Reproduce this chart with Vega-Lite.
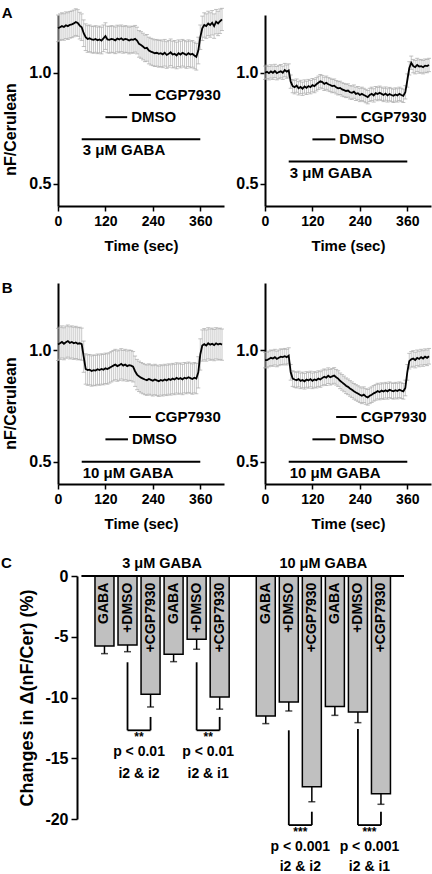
{
  "$schema": "https://vega.github.io/schema/vega-lite/v6.json",
  "background": "white",
  "padding": {"left": 0, "top": 6, "right": 0, "bottom": 0},
  "autosize": {"type": "pad"},
  "config": {
    "font": "Liberation Sans",
    "view": {"stroke": null},
    "axis": {"domainColor": "black", "domainWidth": 2, "tickColor": "black", "tickWidth": 1.5, "labelColor": "black", "titleColor": "black", "labelFont": "Liberation Sans", "titleFont": "Liberation Sans", "labelFontWeight": "bold", "titleFontWeight": "bold", "grid": false, "labelFlush": false, "labelOverlap": false},
    "title": {"font": "Liberation Sans", "fontWeight": "bold", "color": "black"},
    "text": {"font": "Liberation Sans", "fontWeight": "bold", "color": "black"}
  },
  "datasets": {
    "tr": [
      {"p":"A1","t":0,"v":1.2,"lo":1.14,"hi":1.26},{"p":"A1","t":5,"v":1.205,"lo":1.145,"hi":1.265},{"p":"A1","t":10,"v":1.21,"lo":1.15,"hi":1.27},{"p":"A1","t":15,"v":1.206,"lo":1.146,"hi":1.266},{"p":"A1","t":20,"v":1.214,"lo":1.154,"hi":1.274},{"p":"A1","t":25,"v":1.21,"lo":1.15,"hi":1.27},{"p":"A1","t":30,"v":1.216,"lo":1.156,"hi":1.276},{"p":"A1","t":35,"v":1.218,"lo":1.158,"hi":1.278},{"p":"A1","t":40,"v":1.222,"lo":1.162,"hi":1.282},{"p":"A1","t":45,"v":1.228,"lo":1.168,"hi":1.288},{"p":"A1","t":50,"v":1.224,"lo":1.164,"hi":1.284},{"p":"A1","t":55,"v":1.212,"lo":1.152,"hi":1.272},{"p":"A1","t":60,"v":1.205,"lo":1.145,"hi":1.265},{"p":"A1","t":65,"v":1.178,"lo":1.118,"hi":1.238},{"p":"A1","t":70,"v":1.16,"lo":1.1,"hi":1.22},{"p":"A1","t":75,"v":1.152,"lo":1.092,"hi":1.212},{"p":"A1","t":80,"v":1.155,"lo":1.095,"hi":1.215},{"p":"A1","t":85,"v":1.15,"lo":1.09,"hi":1.21},{"p":"A1","t":90,"v":1.148,"lo":1.088,"hi":1.208},{"p":"A1","t":95,"v":1.152,"lo":1.092,"hi":1.212},{"p":"A1","t":100,"v":1.146,"lo":1.086,"hi":1.206},{"p":"A1","t":105,"v":1.15,"lo":1.09,"hi":1.21},{"p":"A1","t":110,"v":1.145,"lo":1.085,"hi":1.205},{"p":"A1","t":115,"v":1.155,"lo":1.095,"hi":1.215},{"p":"A1","t":120,"v":1.165,"lo":1.105,"hi":1.225},{"p":"A1","t":125,"v":1.15,"lo":1.09,"hi":1.21},{"p":"A1","t":130,"v":1.148,"lo":1.088,"hi":1.208},{"p":"A1","t":135,"v":1.152,"lo":1.092,"hi":1.212},{"p":"A1","t":140,"v":1.15,"lo":1.09,"hi":1.21},{"p":"A1","t":145,"v":1.146,"lo":1.086,"hi":1.206},{"p":"A1","t":150,"v":1.154,"lo":1.094,"hi":1.214},{"p":"A1","t":155,"v":1.15,"lo":1.09,"hi":1.21},{"p":"A1","t":160,"v":1.155,"lo":1.095,"hi":1.215},{"p":"A1","t":165,"v":1.148,"lo":1.088,"hi":1.208},{"p":"A1","t":170,"v":1.152,"lo":1.092,"hi":1.212},{"p":"A1","t":175,"v":1.15,"lo":1.09,"hi":1.21},{"p":"A1","t":180,"v":1.145,"lo":1.085,"hi":1.205},{"p":"A1","t":185,"v":1.15,"lo":1.09,"hi":1.21},{"p":"A1","t":190,"v":1.148,"lo":1.088,"hi":1.208},{"p":"A1","t":195,"v":1.153,"lo":1.093,"hi":1.213},{"p":"A1","t":200,"v":1.145,"lo":1.085,"hi":1.205},{"p":"A1","t":205,"v":1.13,"lo":1.07,"hi":1.19},{"p":"A1","t":210,"v":1.125,"lo":1.065,"hi":1.185},{"p":"A1","t":215,"v":1.118,"lo":1.058,"hi":1.178},{"p":"A1","t":220,"v":1.11,"lo":1.05,"hi":1.17},{"p":"A1","t":225,"v":1.112,"lo":1.052,"hi":1.172},{"p":"A1","t":230,"v":1.1,"lo":1.04,"hi":1.16},{"p":"A1","t":235,"v":1.095,"lo":1.035,"hi":1.155},{"p":"A1","t":240,"v":1.092,"lo":1.032,"hi":1.152},{"p":"A1","t":245,"v":1.088,"lo":1.028,"hi":1.148},{"p":"A1","t":250,"v":1.09,"lo":1.03,"hi":1.15},{"p":"A1","t":255,"v":1.085,"lo":1.025,"hi":1.145},{"p":"A1","t":260,"v":1.088,"lo":1.028,"hi":1.148},{"p":"A1","t":265,"v":1.083,"lo":1.023,"hi":1.143},{"p":"A1","t":270,"v":1.09,"lo":1.03,"hi":1.15},{"p":"A1","t":275,"v":1.08,"lo":1.02,"hi":1.14},{"p":"A1","t":280,"v":1.085,"lo":1.025,"hi":1.145},{"p":"A1","t":285,"v":1.092,"lo":1.032,"hi":1.152},{"p":"A1","t":290,"v":1.082,"lo":1.022,"hi":1.142},{"p":"A1","t":295,"v":1.085,"lo":1.025,"hi":1.145},{"p":"A1","t":300,"v":1.078,"lo":1.018,"hi":1.138},{"p":"A1","t":305,"v":1.088,"lo":1.028,"hi":1.148},{"p":"A1","t":310,"v":1.082,"lo":1.022,"hi":1.142},{"p":"A1","t":315,"v":1.09,"lo":1.03,"hi":1.15},{"p":"A1","t":320,"v":1.085,"lo":1.025,"hi":1.145},{"p":"A1","t":325,"v":1.08,"lo":1.02,"hi":1.14},{"p":"A1","t":330,"v":1.088,"lo":1.028,"hi":1.148},{"p":"A1","t":335,"v":1.082,"lo":1.022,"hi":1.142},{"p":"A1","t":340,"v":1.085,"lo":1.025,"hi":1.145},{"p":"A1","t":345,"v":1.078,"lo":1.018,"hi":1.138},{"p":"A1","t":350,"v":1.072,"lo":1.012,"hi":1.132},{"p":"A1","t":355,"v":1.1,"lo":1.04,"hi":1.16},{"p":"A1","t":360,"v":1.16,"lo":1.105,"hi":1.215},{"p":"A1","t":365,"v":1.2,"lo":1.145,"hi":1.255},{"p":"A1","t":370,"v":1.215,"lo":1.16,"hi":1.27},{"p":"A1","t":375,"v":1.21,"lo":1.155,"hi":1.265},{"p":"A1","t":380,"v":1.222,"lo":1.167,"hi":1.277},{"p":"A1","t":385,"v":1.215,"lo":1.16,"hi":1.27},{"p":"A1","t":390,"v":1.225,"lo":1.17,"hi":1.28},{"p":"A1","t":395,"v":1.21,"lo":1.155,"hi":1.265},{"p":"A1","t":400,"v":1.23,"lo":1.175,"hi":1.285},{"p":"A1","t":405,"v":1.222,"lo":1.167,"hi":1.277},{"p":"A1","t":410,"v":1.232,"lo":1.177,"hi":1.287},{"p":"A1","t":415,"v":1.24,"lo":1.19,"hi":1.29},
      {"p":"A2","t":0,"v":1.0,"lo":0.97,"hi":1.03},{"p":"A2","t":5,"v":1.004,"lo":0.974,"hi":1.034},{"p":"A2","t":10,"v":0.998,"lo":0.968,"hi":1.028},{"p":"A2","t":15,"v":1.006,"lo":0.976,"hi":1.036},{"p":"A2","t":20,"v":1.0,"lo":0.97,"hi":1.03},{"p":"A2","t":25,"v":1.008,"lo":0.978,"hi":1.038},{"p":"A2","t":30,"v":0.998,"lo":0.968,"hi":1.028},{"p":"A2","t":35,"v":1.003,"lo":0.973,"hi":1.033},{"p":"A2","t":40,"v":1.007,"lo":0.977,"hi":1.037},{"p":"A2","t":45,"v":1.0,"lo":0.97,"hi":1.03},{"p":"A2","t":50,"v":1.012,"lo":0.982,"hi":1.042},{"p":"A2","t":55,"v":1.005,"lo":0.975,"hi":1.035},{"p":"A2","t":60,"v":1.01,"lo":0.98,"hi":1.04},{"p":"A2","t":65,"v":0.96,"lo":0.93,"hi":0.99},{"p":"A2","t":70,"v":0.94,"lo":0.91,"hi":0.97},{"p":"A2","t":75,"v":0.935,"lo":0.905,"hi":0.965},{"p":"A2","t":80,"v":0.942,"lo":0.912,"hi":0.972},{"p":"A2","t":85,"v":0.93,"lo":0.9,"hi":0.96},{"p":"A2","t":90,"v":0.936,"lo":0.906,"hi":0.966},{"p":"A2","t":95,"v":0.928,"lo":0.898,"hi":0.958},{"p":"A2","t":100,"v":0.938,"lo":0.908,"hi":0.968},{"p":"A2","t":105,"v":0.932,"lo":0.902,"hi":0.962},{"p":"A2","t":110,"v":0.94,"lo":0.91,"hi":0.97},{"p":"A2","t":115,"v":0.935,"lo":0.905,"hi":0.965},{"p":"A2","t":120,"v":0.944,"lo":0.914,"hi":0.974},{"p":"A2","t":125,"v":0.94,"lo":0.91,"hi":0.97},{"p":"A2","t":130,"v":0.948,"lo":0.918,"hi":0.978},{"p":"A2","t":135,"v":0.955,"lo":0.925,"hi":0.985},{"p":"A2","t":140,"v":0.962,"lo":0.932,"hi":0.992},{"p":"A2","t":145,"v":0.958,"lo":0.928,"hi":0.988},{"p":"A2","t":150,"v":0.95,"lo":0.92,"hi":0.98},{"p":"A2","t":155,"v":0.955,"lo":0.925,"hi":0.985},{"p":"A2","t":160,"v":0.948,"lo":0.918,"hi":0.978},{"p":"A2","t":165,"v":0.945,"lo":0.915,"hi":0.975},{"p":"A2","t":170,"v":0.94,"lo":0.91,"hi":0.97},{"p":"A2","t":175,"v":0.942,"lo":0.912,"hi":0.972},{"p":"A2","t":180,"v":0.935,"lo":0.905,"hi":0.965},{"p":"A2","t":185,"v":0.93,"lo":0.9,"hi":0.96},{"p":"A2","t":190,"v":0.932,"lo":0.902,"hi":0.962},{"p":"A2","t":195,"v":0.925,"lo":0.895,"hi":0.955},{"p":"A2","t":200,"v":0.922,"lo":0.892,"hi":0.952},{"p":"A2","t":205,"v":0.918,"lo":0.888,"hi":0.948},{"p":"A2","t":210,"v":0.92,"lo":0.89,"hi":0.95},{"p":"A2","t":215,"v":0.912,"lo":0.882,"hi":0.942},{"p":"A2","t":220,"v":0.91,"lo":0.88,"hi":0.94},{"p":"A2","t":225,"v":0.915,"lo":0.885,"hi":0.945},{"p":"A2","t":230,"v":0.905,"lo":0.875,"hi":0.935},{"p":"A2","t":235,"v":0.908,"lo":0.878,"hi":0.938},{"p":"A2","t":240,"v":0.9,"lo":0.87,"hi":0.93},{"p":"A2","t":245,"v":0.905,"lo":0.875,"hi":0.935},{"p":"A2","t":250,"v":0.9,"lo":0.87,"hi":0.93},{"p":"A2","t":255,"v":0.895,"lo":0.865,"hi":0.925},{"p":"A2","t":260,"v":0.89,"lo":0.86,"hi":0.92},{"p":"A2","t":265,"v":0.9,"lo":0.87,"hi":0.93},{"p":"A2","t":270,"v":0.905,"lo":0.875,"hi":0.935},{"p":"A2","t":275,"v":0.898,"lo":0.868,"hi":0.928},{"p":"A2","t":280,"v":0.908,"lo":0.878,"hi":0.938},{"p":"A2","t":285,"v":0.904,"lo":0.874,"hi":0.934},{"p":"A2","t":290,"v":0.91,"lo":0.88,"hi":0.94},{"p":"A2","t":295,"v":0.905,"lo":0.875,"hi":0.935},{"p":"A2","t":300,"v":0.9,"lo":0.87,"hi":0.93},{"p":"A2","t":305,"v":0.906,"lo":0.876,"hi":0.936},{"p":"A2","t":310,"v":0.898,"lo":0.868,"hi":0.928},{"p":"A2","t":315,"v":0.904,"lo":0.874,"hi":0.934},{"p":"A2","t":320,"v":0.9,"lo":0.87,"hi":0.93},{"p":"A2","t":325,"v":0.896,"lo":0.866,"hi":0.926},{"p":"A2","t":330,"v":0.902,"lo":0.872,"hi":0.932},{"p":"A2","t":335,"v":0.898,"lo":0.868,"hi":0.928},{"p":"A2","t":340,"v":0.905,"lo":0.875,"hi":0.935},{"p":"A2","t":345,"v":0.9,"lo":0.87,"hi":0.93},{"p":"A2","t":350,"v":0.896,"lo":0.866,"hi":0.926},{"p":"A2","t":355,"v":0.912,"lo":0.882,"hi":0.942},{"p":"A2","t":360,"v":0.965,"lo":0.935,"hi":0.995},{"p":"A2","t":365,"v":1.02,"lo":0.99,"hi":1.05},{"p":"A2","t":370,"v":1.045,"lo":1.015,"hi":1.075},{"p":"A2","t":375,"v":1.03,"lo":1.0,"hi":1.06},{"p":"A2","t":380,"v":1.025,"lo":0.995,"hi":1.055},{"p":"A2","t":385,"v":1.035,"lo":1.005,"hi":1.065},{"p":"A2","t":390,"v":1.028,"lo":0.998,"hi":1.058},{"p":"A2","t":395,"v":1.03,"lo":1.0,"hi":1.06},{"p":"A2","t":400,"v":1.025,"lo":0.995,"hi":1.055},{"p":"A2","t":405,"v":1.032,"lo":1.002,"hi":1.062},{"p":"A2","t":410,"v":1.03,"lo":1.0,"hi":1.06},{"p":"A2","t":415,"v":1.035,"lo":1.005,"hi":1.065},
      {"p":"B1","t":0,"v":1.025,"lo":0.953,"hi":1.097},{"p":"B1","t":5,"v":1.03,"lo":0.958,"hi":1.102},{"p":"B1","t":10,"v":1.036,"lo":0.964,"hi":1.108},{"p":"B1","t":15,"v":1.028,"lo":0.956,"hi":1.1},{"p":"B1","t":20,"v":1.035,"lo":0.963,"hi":1.107},{"p":"B1","t":25,"v":1.04,"lo":0.968,"hi":1.112},{"p":"B1","t":30,"v":1.032,"lo":0.96,"hi":1.104},{"p":"B1","t":35,"v":1.036,"lo":0.964,"hi":1.108},{"p":"B1","t":40,"v":1.03,"lo":0.958,"hi":1.102},{"p":"B1","t":45,"v":1.034,"lo":0.962,"hi":1.106},{"p":"B1","t":50,"v":1.028,"lo":0.956,"hi":1.1},{"p":"B1","t":55,"v":1.03,"lo":0.958,"hi":1.102},{"p":"B1","t":60,"v":1.026,"lo":0.954,"hi":1.098},{"p":"B1","t":65,"v":0.97,"lo":0.9,"hi":1.04},{"p":"B1","t":70,"v":0.915,"lo":0.847,"hi":0.983},{"p":"B1","t":75,"v":0.91,"lo":0.842,"hi":0.978},{"p":"B1","t":80,"v":0.912,"lo":0.844,"hi":0.98},{"p":"B1","t":85,"v":0.906,"lo":0.838,"hi":0.974},{"p":"B1","t":90,"v":0.91,"lo":0.842,"hi":0.978},{"p":"B1","t":95,"v":0.908,"lo":0.84,"hi":0.976},{"p":"B1","t":100,"v":0.914,"lo":0.846,"hi":0.982},{"p":"B1","t":105,"v":0.91,"lo":0.842,"hi":0.978},{"p":"B1","t":110,"v":0.915,"lo":0.847,"hi":0.983},{"p":"B1","t":115,"v":0.912,"lo":0.844,"hi":0.98},{"p":"B1","t":120,"v":0.918,"lo":0.85,"hi":0.986},{"p":"B1","t":125,"v":0.915,"lo":0.847,"hi":0.983},{"p":"B1","t":130,"v":0.92,"lo":0.852,"hi":0.988},{"p":"B1","t":135,"v":0.925,"lo":0.857,"hi":0.993},{"p":"B1","t":140,"v":0.93,"lo":0.862,"hi":0.998},{"p":"B1","t":145,"v":0.935,"lo":0.867,"hi":1.003},{"p":"B1","t":150,"v":0.928,"lo":0.86,"hi":0.996},{"p":"B1","t":155,"v":0.932,"lo":0.864,"hi":1.0},{"p":"B1","t":160,"v":0.938,"lo":0.87,"hi":1.006},{"p":"B1","t":165,"v":0.93,"lo":0.862,"hi":0.998},{"p":"B1","t":170,"v":0.935,"lo":0.867,"hi":1.003},{"p":"B1","t":175,"v":0.928,"lo":0.86,"hi":0.996},{"p":"B1","t":180,"v":0.932,"lo":0.864,"hi":1.0},{"p":"B1","t":185,"v":0.93,"lo":0.862,"hi":0.998},{"p":"B1","t":190,"v":0.925,"lo":0.857,"hi":0.993},{"p":"B1","t":195,"v":0.905,"lo":0.837,"hi":0.973},{"p":"B1","t":200,"v":0.89,"lo":0.822,"hi":0.958},{"p":"B1","t":205,"v":0.882,"lo":0.814,"hi":0.95},{"p":"B1","t":210,"v":0.876,"lo":0.808,"hi":0.944},{"p":"B1","t":215,"v":0.872,"lo":0.804,"hi":0.94},{"p":"B1","t":220,"v":0.868,"lo":0.8,"hi":0.936},{"p":"B1","t":225,"v":0.865,"lo":0.797,"hi":0.933},{"p":"B1","t":230,"v":0.87,"lo":0.802,"hi":0.938},{"p":"B1","t":235,"v":0.866,"lo":0.798,"hi":0.934},{"p":"B1","t":240,"v":0.862,"lo":0.794,"hi":0.93},{"p":"B1","t":245,"v":0.868,"lo":0.8,"hi":0.936},{"p":"B1","t":250,"v":0.864,"lo":0.796,"hi":0.932},{"p":"B1","t":255,"v":0.86,"lo":0.792,"hi":0.928},{"p":"B1","t":260,"v":0.866,"lo":0.798,"hi":0.934},{"p":"B1","t":265,"v":0.862,"lo":0.794,"hi":0.93},{"p":"B1","t":270,"v":0.868,"lo":0.8,"hi":0.936},{"p":"B1","t":275,"v":0.864,"lo":0.796,"hi":0.932},{"p":"B1","t":280,"v":0.87,"lo":0.802,"hi":0.938},{"p":"B1","t":285,"v":0.866,"lo":0.798,"hi":0.934},{"p":"B1","t":290,"v":0.872,"lo":0.804,"hi":0.94},{"p":"B1","t":295,"v":0.868,"lo":0.8,"hi":0.936},{"p":"B1","t":300,"v":0.875,"lo":0.807,"hi":0.943},{"p":"B1","t":305,"v":0.87,"lo":0.802,"hi":0.938},{"p":"B1","t":310,"v":0.874,"lo":0.806,"hi":0.942},{"p":"B1","t":315,"v":0.868,"lo":0.8,"hi":0.936},{"p":"B1","t":320,"v":0.876,"lo":0.808,"hi":0.944},{"p":"B1","t":325,"v":0.872,"lo":0.804,"hi":0.94},{"p":"B1","t":330,"v":0.878,"lo":0.81,"hi":0.946},{"p":"B1","t":335,"v":0.874,"lo":0.806,"hi":0.942},{"p":"B1","t":340,"v":0.87,"lo":0.802,"hi":0.938},{"p":"B1","t":345,"v":0.876,"lo":0.808,"hi":0.944},{"p":"B1","t":350,"v":0.872,"lo":0.804,"hi":0.94},{"p":"B1","t":355,"v":0.9,"lo":0.83,"hi":0.97},{"p":"B1","t":360,"v":0.98,"lo":0.91,"hi":1.05},{"p":"B1","t":365,"v":1.02,"lo":0.95,"hi":1.09},{"p":"B1","t":370,"v":1.026,"lo":0.956,"hi":1.096},{"p":"B1","t":375,"v":1.02,"lo":0.95,"hi":1.09},{"p":"B1","t":380,"v":1.03,"lo":0.96,"hi":1.1},{"p":"B1","t":385,"v":1.024,"lo":0.954,"hi":1.094},{"p":"B1","t":390,"v":1.028,"lo":0.958,"hi":1.098},{"p":"B1","t":395,"v":1.022,"lo":0.952,"hi":1.092},{"p":"B1","t":400,"v":1.03,"lo":0.96,"hi":1.1},{"p":"B1","t":405,"v":1.025,"lo":0.955,"hi":1.095},{"p":"B1","t":410,"v":1.028,"lo":0.958,"hi":1.098},{"p":"B1","t":415,"v":1.024,"lo":0.954,"hi":1.094},
      {"p":"B2","t":0,"v":0.955,"lo":0.92,"hi":0.99},{"p":"B2","t":5,"v":0.955,"lo":0.92,"hi":0.99},{"p":"B2","t":10,"v":0.96,"lo":0.925,"hi":0.995},{"p":"B2","t":15,"v":0.965,"lo":0.93,"hi":1.0},{"p":"B2","t":20,"v":0.962,"lo":0.927,"hi":0.997},{"p":"B2","t":25,"v":0.968,"lo":0.933,"hi":1.003},{"p":"B2","t":30,"v":0.96,"lo":0.925,"hi":0.995},{"p":"B2","t":35,"v":0.965,"lo":0.93,"hi":1.0},{"p":"B2","t":40,"v":0.97,"lo":0.935,"hi":1.005},{"p":"B2","t":45,"v":0.968,"lo":0.933,"hi":1.003},{"p":"B2","t":50,"v":0.972,"lo":0.937,"hi":1.007},{"p":"B2","t":55,"v":0.968,"lo":0.933,"hi":1.003},{"p":"B2","t":60,"v":0.975,"lo":0.94,"hi":1.01},{"p":"B2","t":65,"v":0.9,"lo":0.865,"hi":0.935},{"p":"B2","t":70,"v":0.872,"lo":0.837,"hi":0.907},{"p":"B2","t":75,"v":0.868,"lo":0.833,"hi":0.903},{"p":"B2","t":80,"v":0.865,"lo":0.83,"hi":0.9},{"p":"B2","t":85,"v":0.87,"lo":0.835,"hi":0.905},{"p":"B2","t":90,"v":0.862,"lo":0.827,"hi":0.897},{"p":"B2","t":95,"v":0.866,"lo":0.831,"hi":0.901},{"p":"B2","t":100,"v":0.86,"lo":0.825,"hi":0.895},{"p":"B2","t":105,"v":0.868,"lo":0.833,"hi":0.903},{"p":"B2","t":110,"v":0.864,"lo":0.829,"hi":0.899},{"p":"B2","t":115,"v":0.87,"lo":0.835,"hi":0.905},{"p":"B2","t":120,"v":0.862,"lo":0.827,"hi":0.897},{"p":"B2","t":125,"v":0.868,"lo":0.833,"hi":0.903},{"p":"B2","t":130,"v":0.865,"lo":0.83,"hi":0.9},{"p":"B2","t":135,"v":0.872,"lo":0.837,"hi":0.907},{"p":"B2","t":140,"v":0.868,"lo":0.833,"hi":0.903},{"p":"B2","t":145,"v":0.875,"lo":0.84,"hi":0.91},{"p":"B2","t":150,"v":0.88,"lo":0.845,"hi":0.915},{"p":"B2","t":155,"v":0.876,"lo":0.841,"hi":0.911},{"p":"B2","t":160,"v":0.885,"lo":0.85,"hi":0.92},{"p":"B2","t":165,"v":0.878,"lo":0.843,"hi":0.913},{"p":"B2","t":170,"v":0.882,"lo":0.847,"hi":0.917},{"p":"B2","t":175,"v":0.886,"lo":0.851,"hi":0.921},{"p":"B2","t":180,"v":0.878,"lo":0.843,"hi":0.913},{"p":"B2","t":185,"v":0.872,"lo":0.837,"hi":0.907},{"p":"B2","t":190,"v":0.862,"lo":0.827,"hi":0.897},{"p":"B2","t":195,"v":0.855,"lo":0.82,"hi":0.89},{"p":"B2","t":200,"v":0.848,"lo":0.813,"hi":0.883},{"p":"B2","t":205,"v":0.84,"lo":0.805,"hi":0.875},{"p":"B2","t":210,"v":0.835,"lo":0.8,"hi":0.87},{"p":"B2","t":215,"v":0.828,"lo":0.793,"hi":0.863},{"p":"B2","t":220,"v":0.822,"lo":0.787,"hi":0.857},{"p":"B2","t":225,"v":0.815,"lo":0.78,"hi":0.85},{"p":"B2","t":230,"v":0.81,"lo":0.775,"hi":0.845},{"p":"B2","t":235,"v":0.805,"lo":0.77,"hi":0.84},{"p":"B2","t":240,"v":0.8,"lo":0.765,"hi":0.835},{"p":"B2","t":245,"v":0.795,"lo":0.76,"hi":0.83},{"p":"B2","t":250,"v":0.8,"lo":0.765,"hi":0.835},{"p":"B2","t":255,"v":0.792,"lo":0.757,"hi":0.827},{"p":"B2","t":260,"v":0.788,"lo":0.753,"hi":0.823},{"p":"B2","t":265,"v":0.795,"lo":0.76,"hi":0.83},{"p":"B2","t":270,"v":0.8,"lo":0.765,"hi":0.835},{"p":"B2","t":275,"v":0.806,"lo":0.771,"hi":0.841},{"p":"B2","t":280,"v":0.81,"lo":0.775,"hi":0.845},{"p":"B2","t":285,"v":0.816,"lo":0.781,"hi":0.851},{"p":"B2","t":290,"v":0.812,"lo":0.777,"hi":0.847},{"p":"B2","t":295,"v":0.818,"lo":0.783,"hi":0.853},{"p":"B2","t":300,"v":0.814,"lo":0.779,"hi":0.849},{"p":"B2","t":305,"v":0.82,"lo":0.785,"hi":0.855},{"p":"B2","t":310,"v":0.815,"lo":0.78,"hi":0.85},{"p":"B2","t":315,"v":0.822,"lo":0.787,"hi":0.857},{"p":"B2","t":320,"v":0.818,"lo":0.783,"hi":0.853},{"p":"B2","t":325,"v":0.815,"lo":0.78,"hi":0.85},{"p":"B2","t":330,"v":0.82,"lo":0.785,"hi":0.855},{"p":"B2","t":335,"v":0.816,"lo":0.781,"hi":0.851},{"p":"B2","t":340,"v":0.822,"lo":0.787,"hi":0.857},{"p":"B2","t":345,"v":0.818,"lo":0.783,"hi":0.853},{"p":"B2","t":350,"v":0.815,"lo":0.78,"hi":0.85},{"p":"B2","t":355,"v":0.83,"lo":0.795,"hi":0.865},{"p":"B2","t":360,"v":0.9,"lo":0.865,"hi":0.935},{"p":"B2","t":365,"v":0.95,"lo":0.915,"hi":0.985},{"p":"B2","t":370,"v":0.958,"lo":0.923,"hi":0.993},{"p":"B2","t":375,"v":0.962,"lo":0.927,"hi":0.997},{"p":"B2","t":380,"v":0.955,"lo":0.92,"hi":0.99},{"p":"B2","t":385,"v":0.965,"lo":0.93,"hi":1.0},{"p":"B2","t":390,"v":0.96,"lo":0.925,"hi":0.995},{"p":"B2","t":395,"v":0.968,"lo":0.933,"hi":1.003},{"p":"B2","t":400,"v":0.962,"lo":0.927,"hi":0.997},{"p":"B2","t":405,"v":0.97,"lo":0.935,"hi":1.005},{"p":"B2","t":410,"v":0.965,"lo":0.93,"hi":1.0},{"p":"B2","t":415,"v":0.972,"lo":0.937,"hi":1.007}
    ],
    "an": [
      {"p":"A1","t":180,"t2":235,"v":0.9,"lab":"CGP7930","k":"side"},
      {"p":"A1","t":120,"t2":175,"v":0.8,"lab":"DMSO","k":"side"},
      {"p":"A1","t":60,"t2":360,"v":0.7,"lab":"3 μM GABA","k":"below"},
      {"p":"A2","t":180,"t2":232,"v":0.8,"lab":"CGP7930","k":"side"},
      {"p":"A2","t":120,"t2":178,"v":0.7,"lab":"DMSO","k":"side"},
      {"p":"A2","t":60,"t2":360,"v":0.6,"lab":"3 μM GABA","k":"below"},
      {"p":"B1","t":180,"t2":235,"v":0.7,"lab":"CGP7930","k":"side"},
      {"p":"B1","t":120,"t2":177,"v":0.6,"lab":"DMSO","k":"side"},
      {"p":"B1","t":60,"t2":360,"v":0.5,"lab":"10 μM GABA","k":"below"},
      {"p":"B2","t":180,"t2":232,"v":0.7,"lab":"CGP7930","k":"side"},
      {"p":"B2","t":120,"t2":178,"v":0.6,"lab":"DMSO","k":"side"},
      {"p":"B2","t":60,"t2":360,"v":0.5,"lab":"10 μM GABA","k":"below"}
    ],
    "bars": [
      {"s":0,"lab":"GABA","v":-5.76,"lo":-6.39},
      {"s":1,"lab":"+DMSO","v":-5.68,"lo":-6.23},
      {"s":2,"lab":"+CGP7930","v":-9.74,"lo":-10.78},
      {"s":3,"lab":"GABA","v":-6.45,"lo":-7.05},
      {"s":4,"lab":"+DMSO","v":-5.21,"lo":-6.03},
      {"s":5,"lab":"+CGP7930","v":-9.96,"lo":-10.96},
      {"s":7,"lab":"GABA","v":-11.52,"lo":-12.15},
      {"s":8,"lab":"+DMSO","v":-10.37,"lo":-11.11},
      {"s":9,"lab":"+CGP7930","v":-17.34,"lo":-18.57},
      {"s":10,"lab":"GABA","v":-10.75,"lo":-11.47},
      {"s":11,"lab":"+DMSO","v":-11.19,"lo":-12.07},
      {"s":12,"lab":"+CGP7930","v":-17.92,"lo":-18.79}
    ],
    "br": [
      {"x":-1,"x2":13,"y":0,"y2":0},
      {"x":1,"x2":1,"y":-7.1,"y2":-12.7},{"x":1,"x2":2,"y":-12.7,"y2":-12.7},{"x":2,"x2":2,"y":-11.6,"y2":-12.7},
      {"x":4,"x2":4,"y":-7.1,"y2":-12.7},{"x":4,"x2":5,"y":-12.7,"y2":-12.7},{"x":5,"x2":5,"y":-11.6,"y2":-12.7},
      {"x":8,"x2":8,"y":-12.7,"y2":-20.5},{"x":8,"x2":9,"y":-20.5,"y2":-20.5},{"x":9,"x2":9,"y":-19.4,"y2":-20.5},
      {"x":11,"x2":11,"y":-12.6,"y2":-20.5},{"x":11,"x2":12,"y":-20.5,"y2":-20.5},{"x":12,"x2":12,"y":-19.4,"y2":-20.5}
    ],
    "bt": [
      {"x":1.5,"y":-13.55,"t":"**","k":"star"},{"x":1.5,"y":-14.8,"t":"p < 0.01","k":"txt"},{"x":1.5,"y":-16.6,"t":"i2 & i2","k":"txt"},
      {"x":4.5,"y":-13.55,"t":"**","k":"star"},{"x":4.5,"y":-14.8,"t":"p < 0.01","k":"txt"},{"x":4.5,"y":-16.6,"t":"i2 & i1","k":"txt"},
      {"x":8.5,"y":-21.36,"t":"***","k":"star"},{"x":8.5,"y":-22.6,"t":"p < 0.001","k":"txt"},{"x":8.5,"y":-24.3,"t":"i2 & i2","k":"txt"},
      {"x":11.5,"y":-21.36,"t":"***","k":"star"},{"x":11.5,"y":-22.6,"t":"p < 0.001","k":"txt"},{"x":11.5,"y":-24.3,"t":"i2 & i1","k":"txt"}
    ],
    "gl": [
      {"x":2.5,"y":0.68,"t":"3 μM GABA"},
      {"x":9.5,"y":0.68,"t":"10 μM GABA"}
    ]
  },
  "spacing": 24,
  "vconcat": [
    {
      "spacing": 28,
      "vconcat": [
        {
          "spacing": 9,
          "hconcat": [
            {
              "width": 166, "height": 191,
              "title": {"text": "A", "anchor": "start", "frame": "bounds", "fontSize": 15, "offset": 0, "dx": -1, "dy": 13.5},
              "data": {"name": "tr"},
              "transform": [{"filter": "datum.p == 'A1'"}],
              "layer": [
                {"mark": {"type": "rule", "color": "#c8c8c8", "strokeWidth": 1},
                 "encoding": {
                   "x": {"field": "t", "type": "quantitative", "scale": {"domain": [0, 420], "nice": false, "zero": false},
                         "axis": {"values": [0,60,120,180,240,300,360,420], "labelExpr": "(datum.value % 120 == 0 && datum.value <= 360) ? datum.label : ''", "labelOverlap": false, "title": "Time (sec)", "tickSize": 5, "labelPadding": 3, "labelFontSize": 14, "titleFontSize": 15, "titlePadding": 10}},
                   "y": {"field": "lo", "type": "quantitative", "scale": {"domain": [0.4, 1.26], "nice": false, "zero": false},
                         "axis": {"values": [0.5, 1.0], "format": ".1f", "labelOverlap": false, "title": "nF/Cerulean", "titleY": 114, "tickSize": 5, "labelPadding": 2, "labelFontSize": 16, "titleFontSize": 16, "titlePadding": 10}},
                   "y2": {"field": "hi"}
                 }},
                {"mark": {"type": "tick", "orient": "horizontal", "color": "#a8a8a8", "size": 4, "thickness": 1},
                 "encoding": {"x": {"field": "t", "type": "quantitative"}, "y": {"field": "hi", "type": "quantitative"}}},
                {"mark": {"type": "tick", "orient": "horizontal", "color": "#a8a8a8", "size": 4, "thickness": 1},
                 "encoding": {"x": {"field": "t", "type": "quantitative"}, "y": {"field": "lo", "type": "quantitative"}}},
                {"mark": {"type": "line", "color": "black", "strokeWidth": 1.8},
                 "encoding": {"x": {"field": "t", "type": "quantitative"}, "y": {"field": "v", "type": "quantitative"}}},
                {"data": {"name": "an"}, "transform": [{"filter": "datum.p == 'A1'"}],
                 "mark": {"type": "rule", "color": "black", "strokeWidth": 2},
                 "encoding": {"x": {"field": "t", "type": "quantitative"}, "x2": {"field": "t2"}, "y": {"field": "v", "type": "quantitative"}}},
                {"data": {"name": "an"}, "transform": [{"filter": "datum.p == 'A1' && datum.k == 'side'"}],
                 "mark": {"type": "text", "align": "left", "baseline": "middle", "dx": 4, "fontSize": 15},
                 "encoding": {"x": {"field": "t2", "type": "quantitative"}, "y": {"field": "v", "type": "quantitative"}, "text": {"field": "lab"}}},
                {"data": {"name": "an"}, "transform": [{"filter": "datum.p == 'A1' && datum.k == 'below'"}],
                 "mark": {"type": "text", "align": "left", "baseline": "middle", "dx": 1, "dy": 11, "fontSize": 15},
                 "encoding": {"x": {"field": "t", "type": "quantitative"}, "y": {"field": "v", "type": "quantitative"}, "text": {"field": "lab"}}}
              ]
            },
            {
              "width": 166, "height": 191,
              "data": {"name": "tr"},
              "transform": [{"filter": "datum.p == 'A2'"}],
              "layer": [
                {"mark": {"type": "rule", "color": "#c8c8c8", "strokeWidth": 1},
                 "encoding": {
                   "x": {"field": "t", "type": "quantitative", "scale": {"domain": [0, 420], "nice": false, "zero": false},
                         "axis": {"values": [0,60,120,180,240,300,360,420], "labelExpr": "(datum.value % 120 == 0 && datum.value <= 360) ? datum.label : ''", "labelOverlap": false, "title": "Time (sec)", "tickSize": 5, "labelPadding": 3, "labelFontSize": 14, "titleFontSize": 15, "titlePadding": 10}},
                   "y": {"field": "lo", "type": "quantitative", "scale": {"domain": [0.4, 1.26], "nice": false, "zero": false},
                         "axis": {"values": [0.5, 1.0], "format": ".1f", "labelOverlap": false, "title": null, "tickSize": 5, "labelPadding": 2, "labelFontSize": 16}},
                   "y2": {"field": "hi"}
                 }},
                {"mark": {"type": "tick", "orient": "horizontal", "color": "#a8a8a8", "size": 4, "thickness": 1},
                 "encoding": {"x": {"field": "t", "type": "quantitative"}, "y": {"field": "hi", "type": "quantitative"}}},
                {"mark": {"type": "tick", "orient": "horizontal", "color": "#a8a8a8", "size": 4, "thickness": 1},
                 "encoding": {"x": {"field": "t", "type": "quantitative"}, "y": {"field": "lo", "type": "quantitative"}}},
                {"mark": {"type": "line", "color": "black", "strokeWidth": 1.8},
                 "encoding": {"x": {"field": "t", "type": "quantitative"}, "y": {"field": "v", "type": "quantitative"}}},
                {"data": {"name": "an"}, "transform": [{"filter": "datum.p == 'A2'"}],
                 "mark": {"type": "rule", "color": "black", "strokeWidth": 2},
                 "encoding": {"x": {"field": "t", "type": "quantitative"}, "x2": {"field": "t2"}, "y": {"field": "v", "type": "quantitative"}}},
                {"data": {"name": "an"}, "transform": [{"filter": "datum.p == 'A2' && datum.k == 'side'"}],
                 "mark": {"type": "text", "align": "left", "baseline": "middle", "dx": 4, "fontSize": 15},
                 "encoding": {"x": {"field": "t2", "type": "quantitative"}, "y": {"field": "v", "type": "quantitative"}, "text": {"field": "lab"}}},
                {"data": {"name": "an"}, "transform": [{"filter": "datum.p == 'A2' && datum.k == 'below'"}],
                 "mark": {"type": "text", "align": "left", "baseline": "middle", "dx": 1, "dy": 11, "fontSize": 15},
                 "encoding": {"x": {"field": "t", "type": "quantitative"}, "y": {"field": "v", "type": "quantitative"}, "text": {"field": "lab"}}}
              ]
            }
          ]
        },
        {
          "spacing": 9,
          "hconcat": [
            {
              "width": 166, "height": 201,
              "title": {"text": "B", "anchor": "start", "frame": "bounds", "fontSize": 15, "offset": 0, "dx": -1, "dy": 13},
              "data": {"name": "tr"},
              "transform": [{"filter": "datum.p == 'B1'"}],
              "layer": [
                {"mark": {"type": "rule", "color": "#c8c8c8", "strokeWidth": 1},
                 "encoding": {
                   "x": {"field": "t", "type": "quantitative", "scale": {"domain": [0, 420], "nice": false, "zero": false},
                         "axis": {"values": [0,60,120,180,240,300,360,420], "labelExpr": "(datum.value % 120 == 0 && datum.value <= 360) ? datum.label : ''", "labelOverlap": false, "title": "Time (sec)", "tickSize": 5, "labelPadding": 3, "labelFontSize": 14, "titleFontSize": 15, "titlePadding": 10}},
                   "y": {"field": "lo", "type": "quantitative", "scale": {"domain": [0.4, 1.3], "nice": false, "zero": false},
                         "axis": {"values": [0.5, 1.0], "format": ".1f", "labelOverlap": false, "title": "nF/Cerulean", "titleY": 120, "tickSize": 5, "labelPadding": 2, "labelFontSize": 16, "titleFontSize": 16, "titlePadding": 10}},
                   "y2": {"field": "hi"}
                 }},
                {"mark": {"type": "tick", "orient": "horizontal", "color": "#a8a8a8", "size": 4, "thickness": 1},
                 "encoding": {"x": {"field": "t", "type": "quantitative"}, "y": {"field": "hi", "type": "quantitative"}}},
                {"mark": {"type": "tick", "orient": "horizontal", "color": "#a8a8a8", "size": 4, "thickness": 1},
                 "encoding": {"x": {"field": "t", "type": "quantitative"}, "y": {"field": "lo", "type": "quantitative"}}},
                {"mark": {"type": "line", "color": "black", "strokeWidth": 1.8},
                 "encoding": {"x": {"field": "t", "type": "quantitative"}, "y": {"field": "v", "type": "quantitative"}}},
                {"data": {"name": "an"}, "transform": [{"filter": "datum.p == 'B1'"}],
                 "mark": {"type": "rule", "color": "black", "strokeWidth": 2},
                 "encoding": {"x": {"field": "t", "type": "quantitative"}, "x2": {"field": "t2"}, "y": {"field": "v", "type": "quantitative"}}},
                {"data": {"name": "an"}, "transform": [{"filter": "datum.p == 'B1' && datum.k == 'side'"}],
                 "mark": {"type": "text", "align": "left", "baseline": "middle", "dx": 4, "fontSize": 15},
                 "encoding": {"x": {"field": "t2", "type": "quantitative"}, "y": {"field": "v", "type": "quantitative"}, "text": {"field": "lab"}}},
                {"data": {"name": "an"}, "transform": [{"filter": "datum.p == 'B1' && datum.k == 'below'"}],
                 "mark": {"type": "text", "align": "left", "baseline": "middle", "dx": 1, "dy": 11, "fontSize": 15},
                 "encoding": {"x": {"field": "t", "type": "quantitative"}, "y": {"field": "v", "type": "quantitative"}, "text": {"field": "lab"}}}
              ]
            },
            {
              "width": 166, "height": 201,
              "data": {"name": "tr"},
              "transform": [{"filter": "datum.p == 'B2'"}],
              "layer": [
                {"mark": {"type": "rule", "color": "#c8c8c8", "strokeWidth": 1},
                 "encoding": {
                   "x": {"field": "t", "type": "quantitative", "scale": {"domain": [0, 420], "nice": false, "zero": false},
                         "axis": {"values": [0,60,120,180,240,300,360,420], "labelExpr": "(datum.value % 120 == 0 && datum.value <= 360) ? datum.label : ''", "labelOverlap": false, "title": "Time (sec)", "tickSize": 5, "labelPadding": 3, "labelFontSize": 14, "titleFontSize": 15, "titlePadding": 10}},
                   "y": {"field": "lo", "type": "quantitative", "scale": {"domain": [0.4, 1.3], "nice": false, "zero": false},
                         "axis": {"values": [0.5, 1.0], "format": ".1f", "labelOverlap": false, "title": null, "tickSize": 5, "labelPadding": 2, "labelFontSize": 16}},
                   "y2": {"field": "hi"}
                 }},
                {"mark": {"type": "tick", "orient": "horizontal", "color": "#a8a8a8", "size": 4, "thickness": 1},
                 "encoding": {"x": {"field": "t", "type": "quantitative"}, "y": {"field": "hi", "type": "quantitative"}}},
                {"mark": {"type": "tick", "orient": "horizontal", "color": "#a8a8a8", "size": 4, "thickness": 1},
                 "encoding": {"x": {"field": "t", "type": "quantitative"}, "y": {"field": "lo", "type": "quantitative"}}},
                {"mark": {"type": "line", "color": "black", "strokeWidth": 1.8},
                 "encoding": {"x": {"field": "t", "type": "quantitative"}, "y": {"field": "v", "type": "quantitative"}}},
                {"data": {"name": "an"}, "transform": [{"filter": "datum.p == 'B2'"}],
                 "mark": {"type": "rule", "color": "black", "strokeWidth": 2},
                 "encoding": {"x": {"field": "t", "type": "quantitative"}, "x2": {"field": "t2"}, "y": {"field": "v", "type": "quantitative"}}},
                {"data": {"name": "an"}, "transform": [{"filter": "datum.p == 'B2' && datum.k == 'side'"}],
                 "mark": {"type": "text", "align": "left", "baseline": "middle", "dx": 4, "fontSize": 15},
                 "encoding": {"x": {"field": "t2", "type": "quantitative"}, "y": {"field": "v", "type": "quantitative"}, "text": {"field": "lab"}}},
                {"data": {"name": "an"}, "transform": [{"filter": "datum.p == 'B2' && datum.k == 'below'"}],
                 "mark": {"type": "text", "align": "left", "baseline": "middle", "dx": 1, "dy": 11, "fontSize": 15},
                 "encoding": {"x": {"field": "t", "type": "quantitative"}, "y": {"field": "v", "type": "quantitative"}, "text": {"field": "lab"}}}
              ]
            }
          ]
        }
      ]
    },
    {
      "width": 351, "height": 243,
      "title": {"text": "C", "anchor": "start", "frame": "bounds", "fontSize": 15, "offset": 0, "dx": -18, "dy": 15},
      "layer": [
        {"data": {"name": "bars"},
         "mark": {"type": "rule", "color": "black", "strokeWidth": 1.5},
         "encoding": {
           "x": {"field": "s", "type": "quantitative", "scale": {"domain": [-1.8, 13], "nice": false, "zero": false}, "axis": null},
           "y": {"field": "lo", "type": "quantitative", "scale": {"domain": [-20, 0], "nice": false},
                 "axis": {"values": [-20, -15, -10, -5, 0], "labelExpr": "datum.value < 0 ? '-' + abs(datum.value) : '0'", "labelOverlap": false, "title": "Changes in Δ(nF/Cer) (%)", "offset": -19, "tickSize": 6, "labelPadding": 3, "labelFontSize": 16, "titleFontSize": 18, "titlePadding": 8}},
           "y2": {"field": "v"}
         }},
        {"data": {"name": "bars"},
         "mark": {"type": "tick", "orient": "horizontal", "color": "black", "size": 7, "thickness": 1.5},
         "encoding": {"x": {"field": "s", "type": "quantitative", "axis": null}, "y": {"field": "lo", "type": "quantitative"}}},
        {"data": {"name": "bars"},
         "mark": {"type": "bar", "width": 19, "fill": "#c0c0c0", "stroke": "black", "strokeWidth": 1.5},
         "encoding": {"x": {"field": "s", "type": "quantitative", "axis": null}, "y": {"field": "v", "type": "quantitative"}}},
        {"data": {"name": "bars"},
         "mark": {"type": "text", "angle": 270, "align": "right", "baseline": "middle", "fontSize": 14},
         "encoding": {"x": {"field": "s", "type": "quantitative", "axis": null}, "y": {"datum": -0.55}, "text": {"field": "lab"}}},
        {"data": {"name": "br"},
         "mark": {"type": "rule", "color": "black", "strokeWidth": 1.8},
         "encoding": {"x": {"field": "x", "type": "quantitative", "axis": null}, "x2": {"field": "x2"}, "y": {"field": "y", "type": "quantitative"}, "y2": {"field": "y2"}}},
        {"data": {"name": "bt"}, "transform": [{"filter": "datum.k == 'star'"}],
         "mark": {"type": "text", "align": "center", "baseline": "alphabetic", "fontSize": 12},
         "encoding": {"x": {"field": "x", "type": "quantitative", "axis": null}, "y": {"field": "y", "type": "quantitative"}, "text": {"field": "t"}}},
        {"data": {"name": "bt"}, "transform": [{"filter": "datum.k == 'txt'"}],
         "mark": {"type": "text", "align": "center", "baseline": "alphabetic", "fontSize": 14},
         "encoding": {"x": {"field": "x", "type": "quantitative", "axis": null}, "y": {"field": "y", "type": "quantitative"}, "text": {"field": "t"}}},
        {"data": {"name": "gl"},
         "mark": {"type": "text", "align": "center", "baseline": "alphabetic", "fontSize": 14.5},
         "encoding": {"x": {"field": "x", "type": "quantitative", "axis": null}, "y": {"field": "y", "type": "quantitative"}, "text": {"field": "t"}}}
      ]
    }
  ]
}
